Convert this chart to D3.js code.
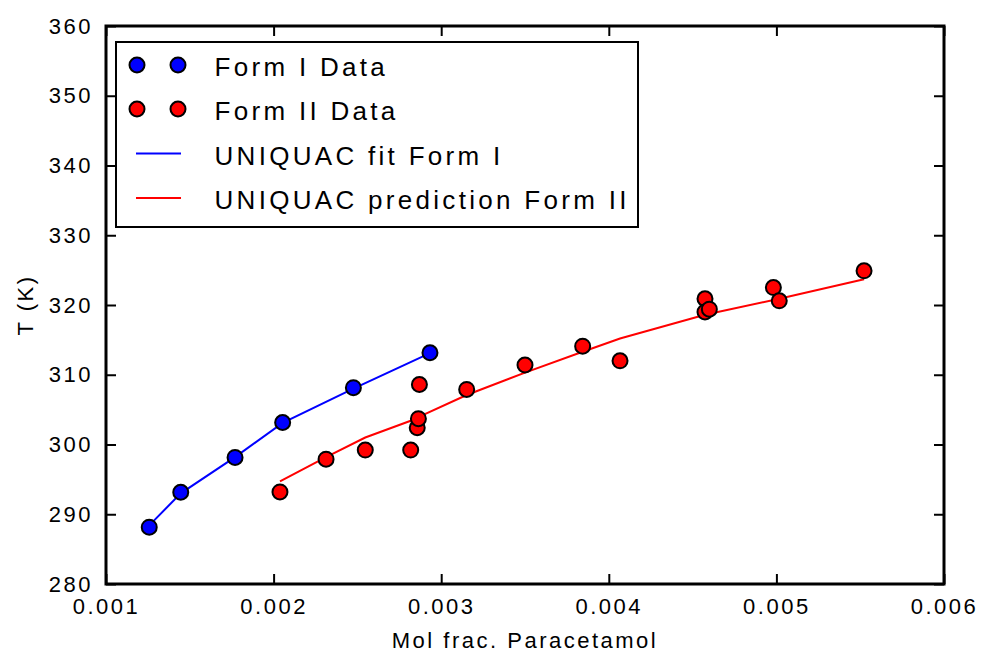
<!DOCTYPE html>
<html>
<head>
<meta charset="utf-8">
<script src="https://cdn.jsdelivr.net/npm/d3@7"></script>
<style>
  body { margin: 0; background: #fff; }
  svg text { font-family: "Liberation Sans", Arial, sans-serif; fill: #000; }
  .tick text { font-size: 22px; letter-spacing: 2.5px; }
  .tick line { stroke: #000; stroke-width: 2; }
</style>
</head>
<body>
<svg id="chart" width="981" height="654"></svg>
<script>
// Form I solubility data (mole fraction, temperature in K)
var form1X = [0.001258, 0.001446, 0.00177, 0.002054, 0.002476, 0.002933];
var form1T = [288.15, 293.15, 298.15, 303.15, 308.15, 313.15];

// Form II solubility data
var form2X = [0.002038, 0.002313, 0.002547, 0.002818, 0.002857, 0.002864, 0.00287,
  0.003152, 0.0035, 0.003844, 0.004067, 0.004574, 0.004574, 0.0046, 0.004982, 0.005017, 0.005523];
var form2T = [293.2, 297.9, 299.2, 299.2, 302.4, 303.7, 308.6,
  307.9, 311.4, 314.1, 312.0, 320.9, 319.0, 319.4, 322.5, 320.6, 324.9];

// UNIQUAC fit for Form I
var fit1X = [0.001258, 0.001446, 0.00177, 0.002054, 0.002476, 0.002933];
var fit1T = [288.4, 293.0, 298.2, 303.1, 308.0, 313.1];

// UNIQUAC prediction for Form II
var pred2X = [0.002038, 0.002313, 0.002547, 0.002818, 0.00287, 0.003152, 0.0035,
  0.003844, 0.004067, 0.004574, 0.005017, 0.005523];
var pred2T = [294.7, 298.2, 301.0, 303.4, 304.0, 307.1, 310.3,
  313.3, 315.2, 318.6, 320.9, 323.7];

var xTicks = [0.001, 0.002, 0.003, 0.004, 0.005, 0.006];
var yTicks = [280, 290, 300, 310, 320, 330, 340, 350, 360];

var legendLabels = ["Form I Data", "Form II Data", "UNIQUAC fit Form I", "UNIQUAC prediction Form II"];

var margin = {top: 26, right: 37, bottom: 70, left: 106};
var width = 944 - margin.left;
var height = 584 - margin.top;

var svg = d3.select("#chart");
var chartGroup = svg.append("g")
  .attr("transform", `translate(${margin.left}, ${margin.top})`);

var xLinearScale = d3.scaleLinear().domain([0.001, 0.006]).range([0, width]);
var yLinearScale = d3.scaleLinear().domain([280, 360]).range([height, 0]);

// inward ticks on all four sides
var bottomAxis = d3.axisBottom(xLinearScale).tickValues(xTicks)
  .tickSize(-10).tickPadding(14).tickFormat(d3.format(".3f"));
var leftAxis = d3.axisLeft(yLinearScale).tickValues(yTicks)
  .tickSize(-10).tickPadding(13).tickFormat(d3.format("d"));
var topAxis = d3.axisTop(xLinearScale).tickValues(xTicks).tickSize(-10).tickFormat("");
var rightAxis = d3.axisRight(yLinearScale).tickValues(yTicks).tickSize(-10).tickFormat("");

chartGroup.append("g").attr("transform", `translate(0, ${height})`).call(bottomAxis);
chartGroup.append("g").call(leftAxis);
chartGroup.append("g").call(topAxis);
chartGroup.append("g").attr("transform", `translate(${width}, 0)`).call(rightAxis);
chartGroup.selectAll(".domain").remove();

chartGroup.append("rect")
  .attr("width", width)
  .attr("height", height)
  .attr("fill", "none")
  .attr("stroke", "#000")
  .attr("stroke-width", 3);

// curves
var line = d3.line()
  .x(d => xLinearScale(d[0]))
  .y(d => yLinearScale(d[1]));

chartGroup.append("path")
  .datum(d3.zip(fit1X, fit1T))
  .attr("d", line)
  .attr("fill", "none")
  .attr("stroke", "#0000ff")
  .attr("stroke-width", 2);

chartGroup.append("path")
  .datum(d3.zip(pred2X, pred2T))
  .attr("d", line)
  .attr("fill", "none")
  .attr("stroke", "#ff0000")
  .attr("stroke-width", 2);

// data points
chartGroup.selectAll("circle.form2")
  .data(d3.zip(form2X, form2T))
  .enter()
  .append("circle")
  .attr("class", "form2")
  .attr("cx", d => xLinearScale(d[0]))
  .attr("cy", d => yLinearScale(d[1]))
  .attr("r", 7.5)
  .attr("fill", "#ff0000")
  .attr("stroke", "#000")
  .attr("stroke-width", 2);

chartGroup.selectAll("circle.form1")
  .data(d3.zip(form1X, form1T))
  .enter()
  .append("circle")
  .attr("class", "form1")
  .attr("cx", d => xLinearScale(d[0]))
  .attr("cy", d => yLinearScale(d[1]))
  .attr("r", 7.5)
  .attr("fill", "#0000ff")
  .attr("stroke", "#000")
  .attr("stroke-width", 2);

// axis titles
svg.append("text")
  .attr("x", margin.left + width / 2)
  .attr("y", 648)
  .attr("text-anchor", "middle")
  .style("font-size", "22px")
  .style("letter-spacing", "2.5px")
  .text("Mol frac. Paracetamol");

svg.append("text")
  .attr("transform", `translate(33, ${margin.top + height / 2}) rotate(-90)`)
  .attr("text-anchor", "middle")
  .style("font-size", "22px")
  .style("letter-spacing", "2.5px")
  .text("T (K)");

// legend
var legend = svg.append("g");
legend.append("rect")
  .attr("x", 116).attr("y", 42)
  .attr("width", 522).attr("height", 185)
  .attr("fill", "#fff")
  .attr("stroke", "#000")
  .attr("stroke-width", 2);

var rowY = [65, 109, 153.5, 198];
var colors = ["#0000ff", "#ff0000", "#0000ff", "#ff0000"];

legendLabels.forEach(function(label, i) {
  if (i < 2) {
    [137, 178].forEach(function(cx) {
      legend.append("circle")
        .attr("cx", cx).attr("cy", rowY[i]).attr("r", 7.5)
        .attr("fill", colors[i]).attr("stroke", "#000").attr("stroke-width", 2);
    });
  } else {
    legend.append("line")
      .attr("x1", 136).attr("x2", 181)
      .attr("y1", rowY[i]).attr("y2", rowY[i])
      .attr("stroke", colors[i]).attr("stroke-width", 2);
  }
  legend.append("text")
    .attr("x", 214.5)
    .attr("y", rowY[i] + 11)
    .style("font-size", "26px")
    .style("letter-spacing", "3.3px")
    .text(label);
});
</script>
</body>
</html>
